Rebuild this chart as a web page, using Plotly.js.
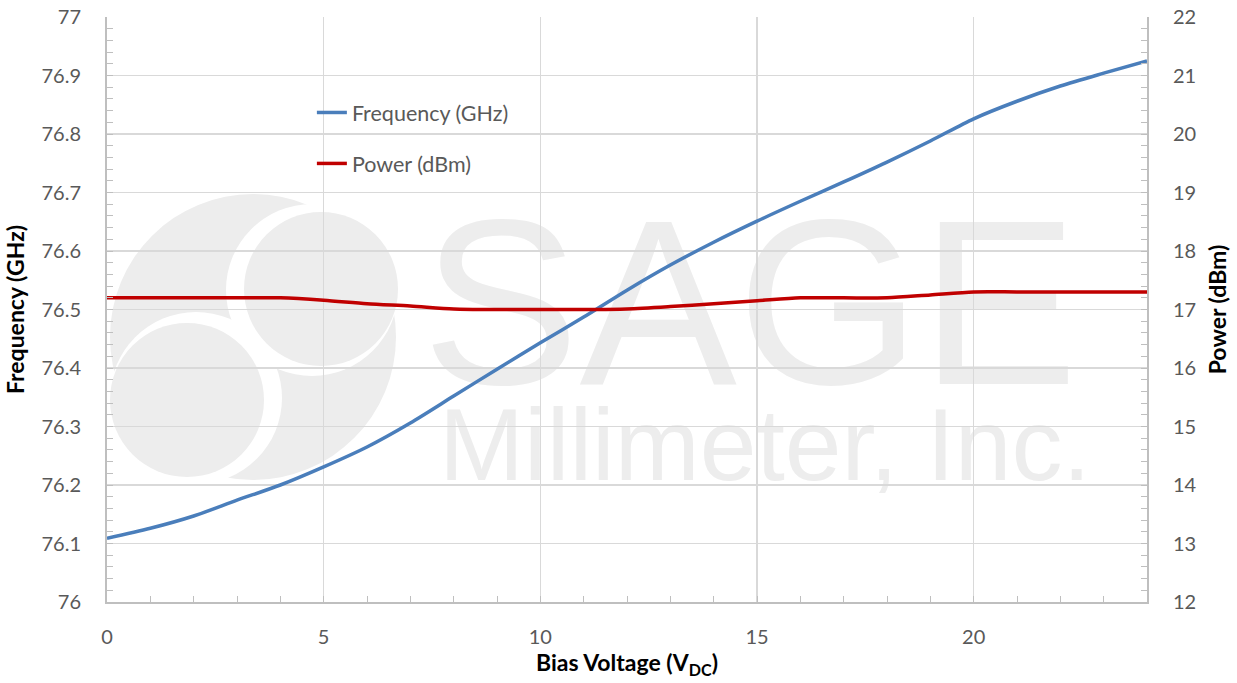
<!DOCTYPE html>
<html>
<head>
<meta charset="utf-8">
<script src="https://cdn.plot.ly/plotly-3.0.1.min.js"></script>
<style>html,body{margin:0;padding:0;background:#fff;}#chart{width:1237px;height:683px;}</style>
</head>
<body>
<div id="chart"></div>
<script>
// Data
const biasVoltage = [0,1,2,3,4,5,6,7,8,9,10,11,12,13,14,15,16,17,18,19,20,21,22,23,24];
const frequencyGHz = [76.109,76.126,76.147,76.174,76.200,76.231,76.265,76.306,76.352,76.398,76.443,76.487,76.533,76.576,76.615,76.651,76.685,76.718,76.752,76.788,76.826,76.856,76.882,76.904,76.925];
const powerDBm = [17.2,17.2,17.2,17.2,17.2,17.16,17.1,17.06,17.01,17.0,17.0,17.0,17.01,17.05,17.1,17.15,17.2,17.2,17.2,17.25,17.3,17.3,17.3,17.3,17.3];
const seriesNames = ['Frequency (GHz)', 'Power (dBm)'];

// plot area in pixels: x 107..1147, y 17..602
const L = 107, R = 1147, T = 17, B = 602;
const px = v => (v - L) / (R - L);
const py = v => (B - v) / (B - T);
const wm = '#ededed';

function circ(cx, cy, r, fill) {
  return {type:'circle', xref:'paper', yref:'paper', layer:'below',
    x0:px(cx-r), x1:px(cx+r), y0:py(cy+r), y1:py(cy-r),
    fillcolor:fill, line:{width:0}};
}
function textShape(txt, x0, x1, y0, y1, size) {
  return {type:'rect', xref:'paper', yref:'paper', layer:'below',
    x0:px(x0), x1:px(x1), y0:py(y1), y1:py(y0),
    fillcolor:'rgba(0,0,0,0)', line:{width:0},
    label:{text:txt, textposition:'middle center', font:{family:'Liberation Sans, Arial, sans-serif', size:size, color:wm}}};
}

const shapes = [
  circ(253, 337, 143, wm),
  circ(312, 290, 86, '#ffffff'),
  circ(321, 289, 77, wm),
  circ(196, 398, 86, '#ffffff'),
  circ(187, 400, 77, wm),
  textShape('SAGE', 420, 1080, 180, 380, 236),
  textShape('Millimeter, Inc.', 415, 1115, 388, 482, 102)
];

const tickFont = {family:'Lato, "Open Sans", sans-serif', size:20, color:'#595959'};
const titleFont = {family:'Lato, "Open Sans", sans-serif', size:23, color:'#000000', weight:'bold'};

const traces = [
  {x:biasVoltage, y:frequencyGHz, name:seriesNames[0], type:'scatter', mode:'lines',
   line:{color:'#4a7ebb', width:3.5, shape:'spline', smoothing:0.8}, yaxis:'y', legendgroup:'a'},
  {x:biasVoltage, y:powerDBm, name:seriesNames[1], type:'scatter', mode:'lines',
   line:{color:'#c00000', width:3.5, shape:'spline', smoothing:0.8}, yaxis:'y2', legendgroup:'b'}
];

const layout = {
  width:1237, height:683,
  margin:{l:L, r:1237-R, t:T, b:683-B, pad:0},
  paper_bgcolor:'#ffffff', plot_bgcolor:'rgba(0,0,0,0)',
  font:tickFont,
  showlegend:true,
  legend:{x:0.197, y:py(92), xanchor:'left', yanchor:'top', bgcolor:'rgba(0,0,0,0)',
    font:{family:'Lato, "Open Sans", sans-serif', size:21.5, color:'#595959'}, tracegroupgap:20},
  xaxis:{range:[0,24], dtick:5, tick0:0, showgrid:true, gridcolor:'#d9d9d9', gridwidth:1.3,
    showline:true, linecolor:'#bfbfbf', linewidth:2, ticks:'inside', ticklen:6, tickcolor:'#bfbfbf',
    minor:{dtick:1, ticks:'inside', ticklen:6, tickcolor:'#bfbfbf', showgrid:false},
    tickfont:tickFont, zeroline:false, ticklabelstandoff:16,
    title:{text:'Bias Voltage (V<sub>DC</sub>)', font:titleFont, standoff:6}},
  yaxis:{range:[76,77], dtick:0.1, tick0:76, showgrid:true, gridcolor:'#d9d9d9', gridwidth:1.3,
    showline:true, linecolor:'#bfbfbf', linewidth:2, ticks:'inside', ticklen:6, tickcolor:'#bfbfbf',
    minor:{dtick:0.02, ticks:'inside', ticklen:6, tickcolor:'#bfbfbf', showgrid:false},
    tickfont:tickFont, zeroline:false, ticklabelstandoff:20,
    title:{text:'Frequency (GHz)', font:titleFont, standoff:10}},
  yaxis2:{range:[12,22], dtick:1, tick0:12, overlaying:'y', side:'right', showgrid:false,
    showline:true, linecolor:'#bfbfbf', linewidth:2, ticks:'inside', ticklen:6, tickcolor:'#bfbfbf',
    minor:{dtick:0.2, ticks:'inside', ticklen:6, tickcolor:'#bfbfbf', showgrid:false},
    tickfont:tickFont, zeroline:false, ticklabelstandoff:20,
    title:{text:'Power (dBm)', font:titleFont, standoff:14}},
  shapes:shapes
};

Plotly.newPlot('chart', traces, layout, {displayModeBar:false, staticPlot:true});
</script>
</body>
</html>
